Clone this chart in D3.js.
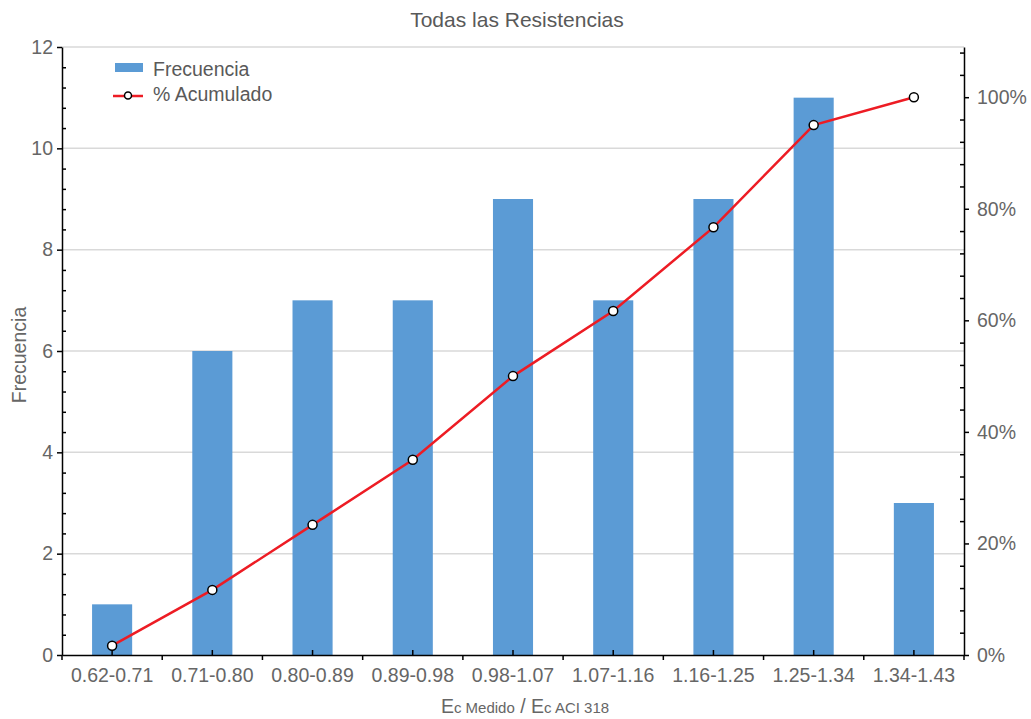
<!DOCTYPE html>
<html lang="es">
<head>
<meta charset="utf-8">
<title>Todas las Resistencias</title>
<script src="https://d3js.org/d3.v7.min.js"></script>
<style>
  body { margin: 0; background: #fff; }
  svg text { font-family: "Liberation Sans", Arial, sans-serif; }
  .axis path, .axis line { stroke: #000; stroke-width: 1.5; }
  .axis text { fill: #666; font-size: 19.5px; }
</style>
</head>
<body>
<div id="chart"></div>
<script>
// data
var categories = ["0.62-0.71", "0.71-0.80", "0.80-0.89", "0.89-0.98", "0.98-1.07",
                  "1.07-1.16", "1.16-1.25", "1.25-1.34", "1.34-1.43"];
var frecuencia = [1, 6, 7, 7, 9, 7, 9, 11, 3];
var acumulado = [0.0167, 0.1167, 0.2333, 0.35, 0.50, 0.6167, 0.7667, 0.95, 1.0];
var leftTicks = [0, 2, 4, 6, 8, 10, 12];
var rightTicks = [0, 0.2, 0.4, 0.6, 0.8, 1.0];

var width = 1031, height = 719;
var plotL = 62, plotR = 964, plotT = 47, plotB = 655;

var svg = d3.select("#chart").append("svg")
  .attr("width", width)
  .attr("height", height);

var x = d3.scaleBand().domain(categories).range([plotL, plotR]);
var yL = d3.scaleLinear().domain([0, 12]).range([plotB, plotT]);
var yR = d3.scaleLinear().domain([0, 1.09]).range([plotB, plotT]);

// gridlines
svg.append("g")
  .selectAll("line")
  .data(leftTicks.filter(d => d > 0))
  .enter().append("line")
  .attr("x1", plotL).attr("x2", plotR)
  .attr("y1", d => yL(d)).attr("y2", d => yL(d))
  .attr("stroke", "#d9d9d9")
  .attr("stroke-width", 1.5);

// bars
var barW = x.bandwidth() * 0.4;
svg.append("g")
  .selectAll("rect")
  .data(frecuencia)
  .enter().append("rect")
  .attr("x", (d, i) => x(categories[i]) + x.bandwidth() / 2 - barW / 2)
  .attr("y", d => yL(d))
  .attr("width", barW)
  .attr("height", d => yL(0) - yL(d))
  .attr("fill", "#5b9bd5");

// left axis
svg.append("g")
  .attr("class", "axis")
  .attr("transform", "translate(" + plotL + ",0)")
  .call(d3.axisLeft(yL).tickValues(leftTicks).tickSize(5).tickSizeOuter(0).tickPadding(4));

svg.append("g")
  .attr("class", "axis minor")
  .attr("transform", "translate(" + plotL + ",0)")
  .call(d3.axisRight(yL).tickValues(d3.range(1, 30).filter(i => i % 5 !== 0).map(i => i * 0.4)).tickSize(4).tickFormat(""))
  .select(".domain").remove();

// right axis
svg.append("g")
  .attr("class", "axis")
  .attr("transform", "translate(" + plotR + ",0)")
  .call(d3.axisRight(yR).tickValues(rightTicks).tickSize(5).tickSizeOuter(0).tickPadding(8).tickFormat(d3.format(".0%")));

svg.append("g")
  .attr("class", "axis minor")
  .attr("transform", "translate(" + plotR + ",0)")
  .call(d3.axisLeft(yR).tickValues(d3.range(1, 28).filter(i => i % 5 !== 0).map(i => i * 0.04)).tickSize(4).tickFormat(""))
  .select(".domain").remove();

// bottom axis: labels + ticks at centres pointing up
var xAxis = svg.append("g")
  .attr("class", "axis")
  .attr("transform", "translate(0," + plotB + ")")
  .call(d3.axisBottom(x).tickSize(-5).tickSizeOuter(0).tickPadding(8));
xAxis.selectAll(".tick text").attr("dy", "0.95em");

// bottom boundary ticks pointing down
svg.append("g")
  .selectAll("line")
  .data(categories.map(c => x(c)).concat([x.range()[1]]))
  .enter().append("line")
  .attr("x1", d => d).attr("x2", d => d)
  .attr("y1", plotB).attr("y2", plotB + 5)
  .attr("stroke", "#000")
  .attr("stroke-width", 1.5);

// cumulative line
var line = d3.line()
  .x((d, i) => x(categories[i]) + x.bandwidth() / 2)
  .y(d => yR(d));

svg.append("path")
  .datum(acumulado)
  .attr("d", line)
  .attr("fill", "none")
  .attr("stroke", "#ed1c24")
  .attr("stroke-width", 2.5);

svg.append("g")
  .selectAll("circle")
  .data(acumulado)
  .enter().append("circle")
  .attr("cx", (d, i) => x(categories[i]) + x.bandwidth() / 2)
  .attr("cy", d => yR(d))
  .attr("r", 4.5)
  .attr("fill", "#fff")
  .attr("stroke", "#000")
  .attr("stroke-width", 1.5);

// title
svg.append("text")
  .attr("x", 517)
  .attr("y", 27)
  .attr("text-anchor", "middle")
  .attr("font-size", "21px")
  .attr("fill", "#595959")
  .text("Todas las Resistencias");

// y label
svg.append("text")
  .attr("transform", "translate(26," + ((plotT + plotB) / 2 + 4) + ") rotate(-90)")
  .attr("text-anchor", "middle")
  .attr("font-size", "19.5px")
  .attr("fill", "#666")
  .text("Frecuencia");

// x label
var xl = svg.append("text")
  .attr("x", 525)
  .attr("y", 713)
  .attr("text-anchor", "middle")
  .attr("font-size", "19.5px")
  .attr("fill", "#666");
xl.append("tspan").text("E");
xl.append("tspan").attr("font-size", "15px").text("c Medido");
xl.append("tspan").text(" / E");
xl.append("tspan").attr("font-size", "15px").text("c ACI 318");

// legend
var legend = svg.append("g");
legend.append("rect")
  .attr("x", 115).attr("y", 63)
  .attr("width", 28).attr("height", 9)
  .attr("fill", "#5b9bd5");
legend.append("text")
  .attr("x", 153).attr("y", 76)
  .attr("font-size", "19.5px")
  .attr("fill", "#595959")
  .text("Frecuencia");
legend.append("line")
  .attr("x1", 113).attr("x2", 143)
  .attr("y1", 96).attr("y2", 96)
  .attr("stroke", "#ed1c24")
  .attr("stroke-width", 2.5);
legend.append("circle")
  .attr("cx", 128).attr("cy", 95.5)
  .attr("r", 3.5)
  .attr("fill", "#fff")
  .attr("stroke", "#000")
  .attr("stroke-width", 1.5);
legend.append("text")
  .attr("x", 153).attr("y", 101)
  .attr("font-size", "19.5px")
  .attr("fill", "#595959")
  .text("% Acumulado");
</script>
</body>
</html>
